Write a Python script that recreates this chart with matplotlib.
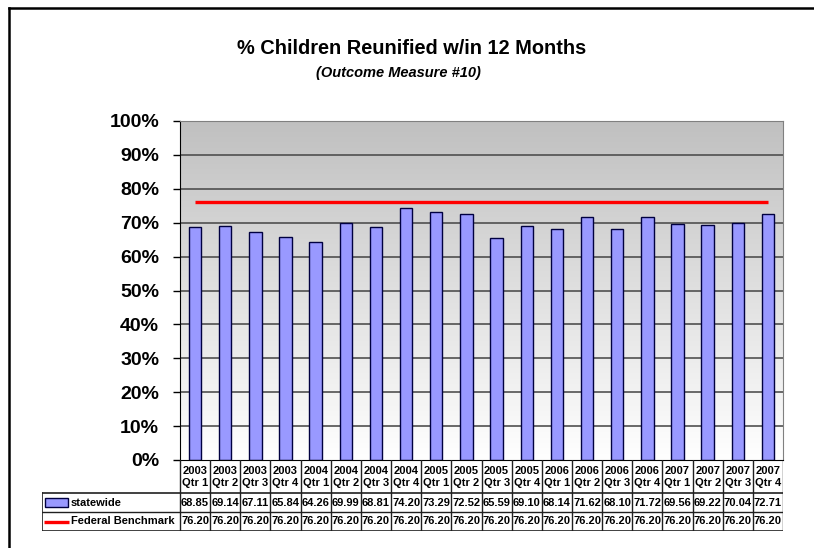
import numpy as np
import matplotlib
matplotlib.use('Agg')
import matplotlib.pyplot as plt
from matplotlib.lines import Line2D
from matplotlib.patches import Rectangle

plt.rcParams['font.family'] = ['Liberation Sans', 'DejaVu Sans']

quarters = ['2003\nQtr 1', '2003\nQtr 2', '2003\nQtr 3', '2003\nQtr 4',
            '2004\nQtr 1', '2004\nQtr 2', '2004\nQtr 3', '2004\nQtr 4',
            '2005\nQtr 1', '2005\nQtr 2', '2005\nQtr 3', '2005\nQtr 4',
            '2006\nQtr 1', '2006\nQtr 2', '2006\nQtr 3', '2006\nQtr 4',
            '2007\nQtr 1', '2007\nQtr 2', '2007\nQtr 3', '2007\nQtr 4']
statewide = [68.85, 69.14, 67.11, 65.84, 64.26, 69.99, 68.81, 74.20, 73.29, 72.52,
             65.59, 69.10, 68.14, 71.62, 68.10, 71.72, 69.56, 69.22, 70.04, 72.71]
benchmark = [76.20] * 20
yticks = [0, 10, 20, 30, 40, 50, 60, 70, 80, 90, 100]

W, H = 814, 548
fig = plt.figure(figsize=(W / 100, H / 100), dpi=100)


def px_box(x0, y0, x1, y1):
    # pixel box (top-left origin) -> figure fraction rect
    return [x0 / W, 1 - y1 / H, (x1 - x0) / W, (y1 - y0) / H]


# outer frame (cropped at right and bottom)
fig.add_artist(Line2D([9 / W, 9 / W], [0, 1 - 8 / H], color='black', lw=1.8,
                      transform=fig.transFigure))
fig.add_artist(Line2D([9 / W, 1], [1 - 8 / H, 1 - 8 / H], color='black', lw=1.8,
                      transform=fig.transFigure))

fig.text(412 / W, 1 - 48 / H, '% Children Reunified w/in 12 Months',
         ha='center', va='center', fontsize=14.4, fontweight='bold')
fig.text(398 / W, 1 - 73 / H, '(Outcome Measure #10)', ha='center', va='center',
         fontsize=10.5, fontweight='bold', style='italic')

n = len(quarters)
x = np.arange(n)

ax = fig.add_axes(px_box(180, 121, 783, 460))
ax.set_xlim(-0.5, n - 0.5)

# gradient plot background: grey at the top fading to white at the bottom
grad = np.linspace(192, 255, 256)[:, None] / 255.0
img = np.dstack([grad, grad, grad])
ax.imshow(img, extent=(-0.5, n - 0.5, 0, 100), origin='upper', aspect='auto',
          zorder=0)
ax.set_ylim(0, 100)

for t in yticks[1:]:
    ax.axhline(t, color='#505050', lw=1.2, zorder=1)

ax.bar(x, statewide, width=0.41, color='#9999ff', edgecolor='#000040', lw=1,
       zorder=2)
ax.plot(x, benchmark, color='#ff0000', lw=2.4, zorder=3, solid_capstyle='butt')

ax.set_yticks(yticks)
ax.set_yticklabels(['%d%%' % t for t in yticks], fontsize=14, fontweight='bold')
ax.tick_params(axis='y', length=5, width=1, direction='out', pad=10)
ax.set_xticks([])
for s in ['top', 'right']:
    ax.spines[s].set_color('#808080')
ax.spines['left'].set_color('black')
ax.spines['bottom'].set_color('black')

# data table below the plot
cw = 603 / n
tab = fig.add_axes(px_box(42, 460, 783, 531))
tab.set_xlim(-0.5 - 138 / cw, n - 0.5)
tab.set_ylim(71, 0)
tab.axis('off')
lx = -0.5 - 138 / cw
r1, r2, r3 = 33, 52, 71
lc = '#202020'
tab.plot([lx, n - 0.5], [r1, r1], color=lc, lw=1.2)
tab.plot([lx, n - 0.5], [r2, r2], color=lc, lw=1.0)
tab.plot([lx, n - 0.5], [r3 - 0.5, r3 - 0.5], color=lc, lw=1.2)
tab.plot([lx, lx], [r1, r3], color=lc, lw=1.2)
for i in range(n + 1):
    tab.plot([i - 0.5, i - 0.5], [0, r3], color=lc, lw=1.0)
for i in range(n):
    tab.text(i, 16.5, quarters[i], ha='center', va='center', fontsize=8,
             fontweight='bold', linespacing=1.25)
    tab.text(i, (r1 + r2) / 2, '%.2f' % statewide[i], ha='center', va='center',
             fontsize=8, fontweight='bold')
    tab.text(i, (r2 + r3) / 2, '%.2f' % benchmark[i], ha='center', va='center',
             fontsize=8, fontweight='bold')

# legend keys inside the table
tab.add_patch(Rectangle((lx + 3 / cw, r1 + 4.5), 23 / cw, 9, facecolor='#9999ff',
                        edgecolor='#000040', lw=1))
tab.plot([lx + 2 / cw, lx + 27 / cw], [(r2 + r3) / 2, (r2 + r3) / 2],
         color='#ff0000', lw=2.4, solid_capstyle='butt')
tab.text(lx + 29 / cw, (r1 + r2) / 2, 'statewide', ha='left', va='center',
         fontsize=8, fontweight='bold')
tab.text(lx + 29 / cw, (r2 + r3) / 2, 'Federal Benchmark', ha='left', va='center',
         fontsize=8, fontweight='bold')

fig.savefig('out.png', dpi=100)
